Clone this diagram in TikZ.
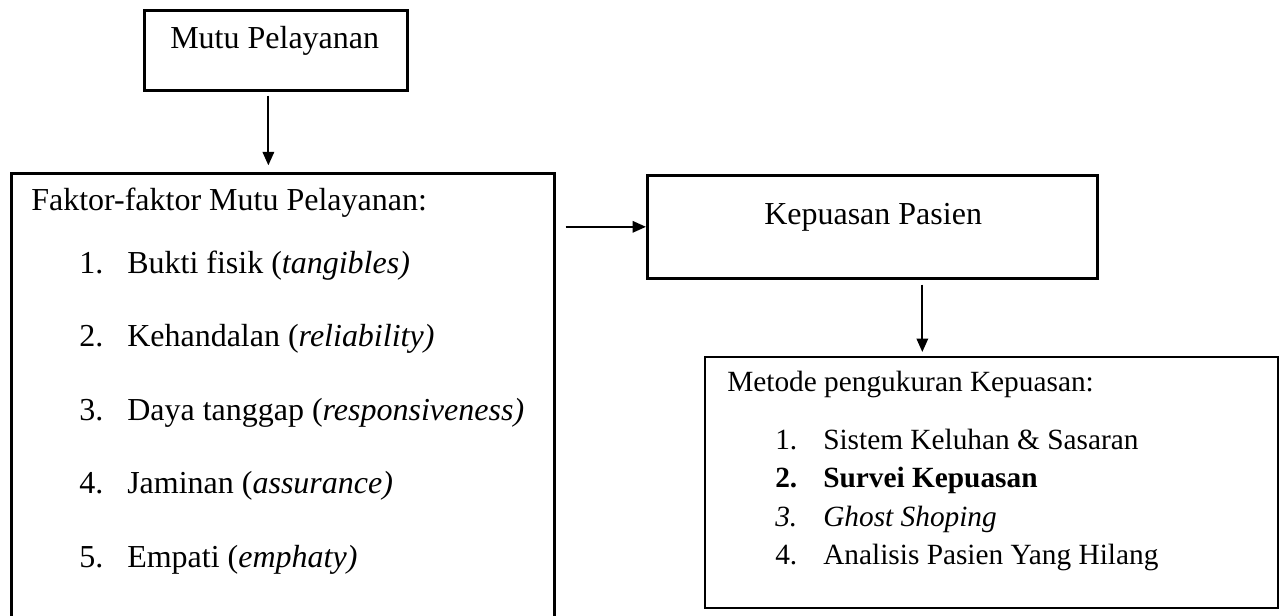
\documentclass[tikz,border=0pt]{standalone}
\usepackage{fontspec}
\setmainfont{Liberation Serif}
\usetikzlibrary{arrows.meta,positioning}

\tikzset{
  kotak/.style={draw, line width=2pt, anchor=north west, inner sep=0pt},
  panah/.style={-{Triangle[length=10pt,width=8.5pt]}, line width=1.5pt},
  teks/.style={anchor=base west, inner sep=0pt, font=\fontsize{24}{28}\selectfont},
  tekskecil/.style={anchor=base west, inner sep=0pt, font=\fontsize{22}{26}\selectfont},
}

\begin{document}
\begin{tikzpicture}[x=0.75pt,y=0.75pt,yscale=-1,xscale=1]
\useasboundingbox (0,0) rectangle (1279,616);
\clip (0,0) rectangle (1279,616);

%Shape: Box Mutu Pelayanan
\node [kotak, minimum width=197.25pt, minimum height=60pt] (mutu) at (143,9) {};
%Shape: Box Faktor (runs off the page bottom)
\node [kotak, minimum width=407.25pt, minimum height=351pt] (faktor) at (10,172) {};
%Shape: Box Kepuasan Pasien
\node [kotak, minimum width=337.5pt, minimum height=77.25pt] (kepuasan) at (646,174) {};
%Shape: Box Metode
\node [kotak, line width=1.5pt, minimum width=429.75pt, minimum height=188.25pt] (metode) at (704,356) {};

% Text Node
\node [teks] (tmutu) at (170,49) {Mutu Pelayanan};
% Text Node
\node [teks] (tfaktor) at (31,211) {Faktor-faktor Mutu Pelayanan:};
\node [teks] (f1) at (79,274) {\makebox[36pt][l]{1.}Bukti fisik (\textit{tangibles)}};
\node [teks] (f2) at (79,347) {\makebox[36pt][l]{2.}Kehandalan (\textit{reliability)}};
\node [teks] (f3) at (79,421) {\makebox[36pt][l]{3.}Daya tanggap (\textit{responsiveness)}};
\node [teks] (f4) at (79,494) {\makebox[36pt][l]{4.}Jaminan (\textit{assurance)}};
\node [teks] (f5) at (79,568) {\makebox[36pt][l]{5.}Empati (\textit{emphaty)}};
% Text Node
\node [teks] (tkepuasan) at (764,225) {Kepuasan Pasien};
% Text Node
\node [tekskecil] (tmetode) at (727,392) {Metode pengukuran Kepuasan:};
\node [tekskecil] (m1) at (775,450) {\makebox[36pt][l]{1.}Sistem Keluhan \& Sasaran};
\node [tekskecil] (m2) at (775,488) {\bfseries\makebox[36pt][l]{2.}Survei Kepuasan};
\node [tekskecil] (m3) at (775,527) {\itshape\makebox[36pt][l]{3.}Ghost Shoping};
\node [tekskecil] (m4) at (775,565) {\makebox[36pt][l]{4.}Analisis Pasien Yang Hilang};

%Straight Lines
\draw [panah, shorten <=3pt, shorten >=5pt] ([xshift=-5.6pt]mutu.south) -- ([xshift=-5.6pt]mutu.south |- faktor.north);
%Straight Lines
\draw [panah, shorten <=7.5pt] (faktor.east |- kepuasan.west) -- (kepuasan.west);
%Straight Lines
\draw [panah, shorten <=3.75pt, shorten >=3pt] ([xshift=37.5pt]kepuasan.south) -- ([xshift=37.5pt]kepuasan.south |- metode.north);

\end{tikzpicture}
\end{document}
